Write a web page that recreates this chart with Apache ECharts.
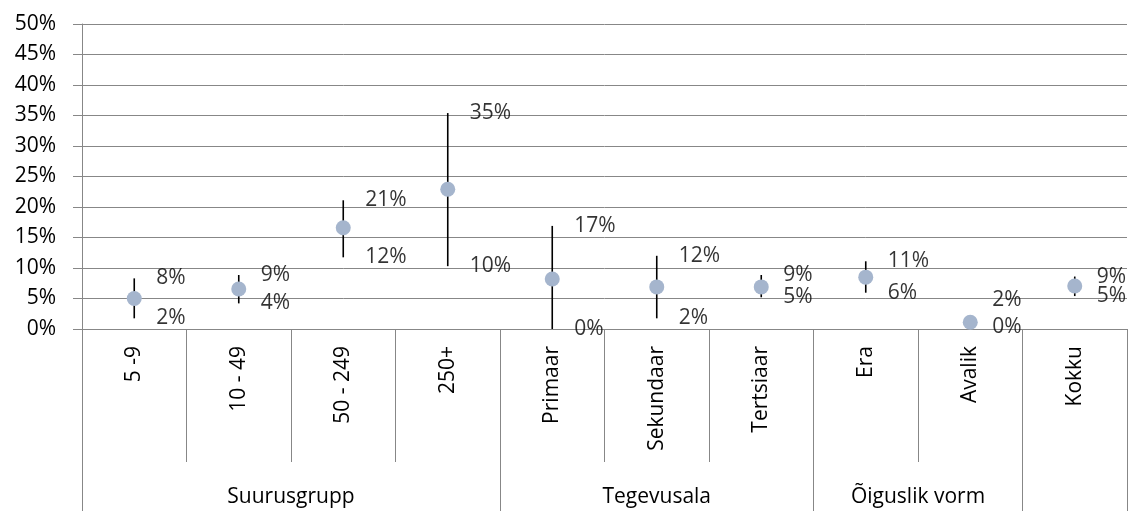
<!DOCTYPE html>
<html>
<head>
<meta charset="utf-8">
<script src="https://cdn.jsdelivr.net/npm/echarts@6/dist/echarts.min.js"></script>
<style>
  html, body { margin: 0; padding: 0; background: #fff; }
  #chart { width: 1135px; height: 511px; }
</style>
</head>
<body>
<div id="chart"></div>
<script>
// ---- data ----
const categories = ['5 -9', '10 - 49', '50 - 249', '250+', 'Primaar', 'Sekundaar', 'Tertsiaar', 'Era', 'Avalik', 'Kokku'];
const pointValues = [5.0, 6.55, 16.6, 22.9, 8.2, 6.9, 6.9, 8.5, 1.1, 7.05];
const highValues  = [8.3, 8.85, 21.1, 35.4, 16.9, 12.0, 8.85, 11.1, 1.9, 8.6];
const lowValues   = [1.75, 4.2, 11.75, 10.3, 0.0, 1.75, 5.2, 5.95, 0.3, 5.4];
const groupNames  = ['Suurusgrupp', 'Tegevusala', 'Õiguslik vorm', ''];
const groupSizes  = [4, 3, 2, 1];
const yMin = 0, yMax = 50, yStep = 5;

// ---- derived group geometry (in category units) ----
const groupBounds = [0];
const groupCenters = [];
groupSizes.forEach((s, i) => {
  const start = groupBounds[i];
  groupBounds.push(start + s);
  groupCenters.push(start + s / 2);
});
const totalCats = groupBounds[groupBounds.length - 1];

const FONT = 'Open Sans';
const FS = 21;
const GRAY = '#878787';

const chart = echarts.init(document.getElementById('chart'), null, { renderer: 'canvas' });

const labelFmt = p => Math.round(p.value[1]) + '%';

chart.setOption({
  animation: false,
  backgroundColor: '#ffffff',
  textStyle: { fontFamily: FONT },
  grid: { left: 82, right: 8, top: 24, bottom: 182, containLabel: false },
  xAxis: [
    {
      type: 'category',
      data: categories,
      position: 'bottom',
      boundaryGap: true,
      axisLine: { show: true, lineStyle: { color: GRAY, width: 1 } },
      axisTick: { show: true, length: 133, interval: 0, lineStyle: { color: GRAY, width: 1 } },
      axisLabel: {
        rotate: 90, interval: 0, margin: 17,
        fontFamily: FONT, fontSize: FS, color: '#000'
      },
      splitLine: { show: false }
    },
    {
      type: 'value',
      position: 'bottom',
      min: 0, max: totalCats,
      axisLine: { show: false },
      splitLine: { show: false },
      axisTick: {
        show: true, length: 182, customValues: groupBounds,
        lineStyle: { color: GRAY, width: 1 }
      },
      axisLabel: {
        show: true, margin: 158, customValues: groupCenters,
        fontFamily: FONT, fontSize: FS, color: '#000',
        formatter: v => {
          const i = groupCenters.indexOf(v);
          return i >= 0 ? groupNames[i] : '';
        }
      }
    }
  ],
  yAxis: {
    type: 'value',
    min: yMin, max: yMax, interval: yStep,
    axisLine: { show: true, onZero: false, lineStyle: { color: GRAY, width: 1 } },
    axisTick: { show: true, length: 9, lineStyle: { color: GRAY, width: 1 } },
    axisLabel: {
      margin: 26, fontFamily: FONT, fontSize: FS, color: '#000',
      formatter: '{value}%'
    },
    splitLine: { show: true, lineStyle: { color: GRAY, width: 1 } }
  },
  series: [
    {
      name: 'range',
      type: 'custom',
      xAxisIndex: 0,
      z: 2,
      data: categories.map((c, i) => [i, lowValues[i], highValues[i]]),
      renderItem: (params, api) => {
        const lo = api.coord([api.value(0), api.value(1)]);
        const hi = api.coord([api.value(0), api.value(2)]);
        return {
          type: 'line',
          shape: { x1: lo[0], y1: lo[1], x2: hi[0], y2: hi[1] },
          style: { stroke: '#000', lineWidth: 1.6 }
        };
      }
    },
    {
      name: 'point',
      type: 'scatter',
      xAxisIndex: 0,
      z: 3,
      symbol: 'circle',
      symbolSize: 15,
      itemStyle: { color: '#A5B5CD', opacity: 1 },
      data: categories.map((c, i) => [i, pointValues[i]])
    },
    {
      name: 'high',
      type: 'scatter',
      xAxisIndex: 0,
      z: 4,
      symbolSize: 0.1,
      itemStyle: { color: 'rgba(0,0,0,0)' },
      label: {
        show: true, position: 'right', distance: 22,
        fontFamily: FONT, fontSize: FS, color: '#000', formatter: labelFmt
      },
      data: categories.map((c, i) => {
        const d = { value: [i, highValues[i]] };
        if (c === 'Avalik') d.label = { offset: [0, -17] };
        return d;
      })
    },
    {
      name: 'low',
      type: 'scatter',
      xAxisIndex: 0,
      z: 4,
      symbolSize: 0.1,
      itemStyle: { color: 'rgba(0,0,0,0)' },
      label: {
        show: true, position: 'right', distance: 22,
        fontFamily: FONT, fontSize: FS, color: '#000', formatter: labelFmt
      },
      data: categories.map((c, i) => ({ value: [i, lowValues[i]] }))
    }
  ]
});
</script>
</body>
</html>
